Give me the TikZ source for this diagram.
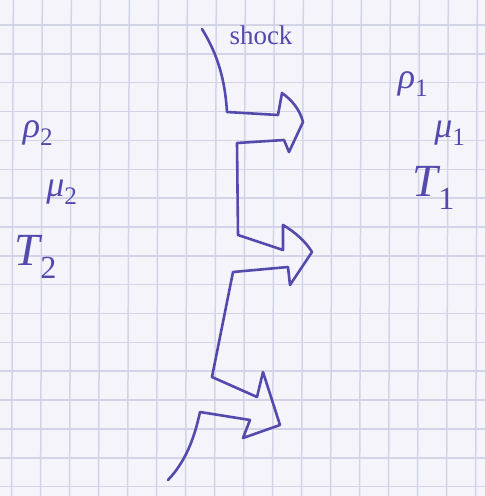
\documentclass[tikz,border=0pt]{standalone}
\usepackage{fontspec}
\setmainfont{Liberation Serif}
\definecolor{inkc}{RGB}{84,74,174}
\definecolor{paper}{RGB}{244,244,250}
\definecolor{gridc}{RGB}{212,212,232}
\newcommand{\sbx}[1]{\textsubscript{\upshape #1}}
\begin{document}
\begin{tikzpicture}[x=1pt,y=-1pt,
  ink/.style={draw=inkc, line width=2.6pt, line join=round, line cap=round},
  lab/.style={text=inkc, inner sep=0pt, font=\itshape\fontsize{36}{38}\selectfont},
  big/.style={lab, font=\itshape\fontsize{46}{48}\selectfont},
  gline/.style={draw=gridc, line width=1.5pt}]
\fill[paper] (0,0) rectangle (485,496);
\useasboundingbox (0,0) rectangle (485,496);
% grid
\foreach \k in {0,...,16} \draw[gline] ({13.3+29*\k},0) -- ({11.6+29*\k},496);
\foreach \k in {0,...,16} \draw[gline] (0,{25+28.85*\k}) -- (485,{25+28.85*\k});
% shock front
\coordinate (s0) at (202,29);
\coordinate (s1) at (227,112);
\coordinate (e0) at (168,480);
\draw[ink] (s0) .. controls (218,55) and (225,80) .. (s1)
  -- (278,115) -- (282,93) .. controls (292,100) and (300,110) .. (303,122)
  -- (289,152) -- (284,140) -- (237,143) -- (238,235)
  -- (283,250) -- (283,225) .. controls (295,232) and (306,242) .. (312,252)
  -- (290,285) -- (288,267) -- (233,272) -- (212,377)
  -- (257,397) -- (263,372) -- (280,425) -- (243,438) -- (250,420)
  -- (200,412) .. controls (194,440) and (185,462) .. (e0);
% labels
\node[lab, font=\fontsize{27}{29}\selectfont] (shock) at (261,35) {shock};
\node[lab] (r2) at (38,133) {ρ\sbx{2}};
\node[lab] (m2) at (62,192) {μ\sbx{2}};
\node[big] (t2) at (36,257) {T\sbx{2}};
\node[lab] (r1) at (413,84) {ρ\sbx{1}};
\node[lab] (m1) at (450,133) {μ\sbx{1}};
\node[big] (t1) at (434,188) {T\sbx{1}};
\end{tikzpicture}
\end{document}
